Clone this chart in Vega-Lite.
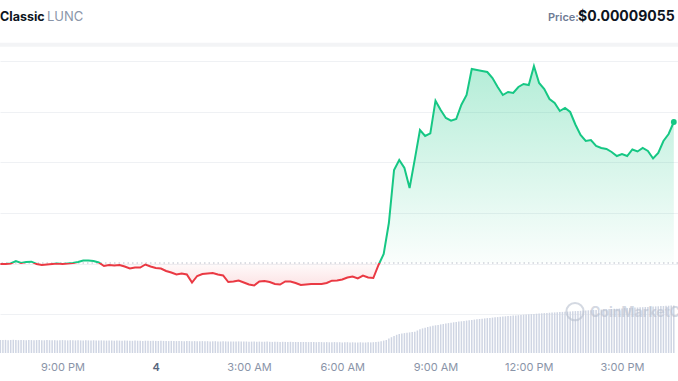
{
"$schema":"https://vega.github.io/schema/vega-lite/v6.json",
"width":678,"height":353,
"autosize":{"type":"none"},
"padding":{"left":0,"right":0,"top":0,"bottom":28},
"background":"white",
"config":{"view":{"stroke":null},"scale":{"continuousPadding":0},
"axisX":{"grid":false,"ticks":false,"domain":false,"labelFont":"Inter","labelFontSize":11,"labelColor":"#8a94a8","labelPadding":8,"labelOverlap":false,"labelFlush":false},
"axisY":{"labels":false,"ticks":false,"domain":false,"grid":true,"gridColor":"#eff1f4","gridWidth":1}},
"datasets":{
"price":[
{"t":"2024-09-03T19:00","p":0.00008629},{"t":"2024-09-03T19:10","p":0.00008629},{"t":"2024-09-03T19:20","p":0.000086305},{"t":"2024-09-03T19:30","p":0.00008638},{"t":"2024-09-03T19:40","p":0.00008632},{"t":"2024-09-03T19:50","p":0.00008635},
{"t":"2024-09-03T20:00","p":0.00008636},{"t":"2024-09-03T20:10","p":0.00008629},{"t":"2024-09-03T20:20","p":0.00008626},{"t":"2024-09-03T20:30","p":0.000086275},{"t":"2024-09-03T20:40","p":0.00008629},{"t":"2024-09-03T20:50","p":0.000086305},
{"t":"2024-09-03T21:00","p":0.00008629},{"t":"2024-09-03T21:10","p":0.000086305},{"t":"2024-09-03T21:20","p":0.00008632},{"t":"2024-09-03T21:30","p":0.00008635},{"t":"2024-09-03T21:40","p":0.000086395},{"t":"2024-09-03T21:50","p":0.000086395},
{"t":"2024-09-03T22:00","p":0.00008638},{"t":"2024-09-03T22:10","p":0.000086335},{"t":"2024-09-03T22:20","p":0.00008623},{"t":"2024-09-03T22:30","p":0.00008626},{"t":"2024-09-03T22:40","p":0.000086245},{"t":"2024-09-03T22:50","p":0.00008626},
{"t":"2024-09-03T23:00","p":0.000086215},{"t":"2024-09-03T23:10","p":0.000086155},{"t":"2024-09-03T23:20","p":0.000086185},{"t":"2024-09-03T23:30","p":0.000086185},{"t":"2024-09-03T23:40","p":0.000086275},{"t":"2024-09-03T23:50","p":0.000086215},
{"t":"2024-09-04T00:00","p":0.00008617},{"t":"2024-09-04T00:10","p":0.000086155},{"t":"2024-09-04T00:20","p":0.00008608},{"t":"2024-09-04T00:30","p":0.000086035},{"t":"2024-09-04T00:40","p":0.000085975},{"t":"2024-09-04T00:50","p":0.000086005},
{"t":"2024-09-04T01:00","p":0.000085975},{"t":"2024-09-04T01:10","p":0.000085735},{"t":"2024-09-04T01:20","p":0.00008593},{"t":"2024-09-04T01:30","p":0.00008599},{"t":"2024-09-04T01:40","p":0.000086005},{"t":"2024-09-04T01:50","p":0.00008602},
{"t":"2024-09-04T02:00","p":0.000085975},{"t":"2024-09-04T02:10","p":0.000085945},{"t":"2024-09-04T02:20","p":0.00008575},{"t":"2024-09-04T02:30","p":0.000085765},{"t":"2024-09-04T02:40","p":0.000085795},{"t":"2024-09-04T02:50","p":0.000085735},
{"t":"2024-09-04T03:00","p":0.000085675},{"t":"2024-09-04T03:10","p":0.000085645},{"t":"2024-09-04T03:20","p":0.000085765},{"t":"2024-09-04T03:30","p":0.00008578},{"t":"2024-09-04T03:40","p":0.00008575},{"t":"2024-09-04T03:50","p":0.00008569},
{"t":"2024-09-04T04:00","p":0.000085675},{"t":"2024-09-04T04:10","p":0.000085765},{"t":"2024-09-04T04:20","p":0.000085765},{"t":"2024-09-04T04:30","p":0.00008572},{"t":"2024-09-04T04:40","p":0.00008566},{"t":"2024-09-04T04:50","p":0.000085675},
{"t":"2024-09-04T05:00","p":0.00008569},{"t":"2024-09-04T05:10","p":0.00008569},{"t":"2024-09-04T05:20","p":0.00008569},{"t":"2024-09-04T05:30","p":0.00008572},{"t":"2024-09-04T05:40","p":0.00008579},{"t":"2024-09-04T05:50","p":0.000085795},
{"t":"2024-09-04T06:00","p":0.000085825},{"t":"2024-09-04T06:10","p":0.000085885},{"t":"2024-09-04T06:20","p":0.000085915},{"t":"2024-09-04T06:30","p":0.00008586},{"t":"2024-09-04T06:40","p":0.000085945},{"t":"2024-09-04T06:50","p":0.000085885},
{"t":"2024-09-04T07:00","p":0.00008587},{"t":"2024-09-04T07:10","p":0.00008626},{"t":"2024-09-04T07:20","p":0.00008659},{"t":"2024-09-04T07:30","p":0.00008752},{"t":"2024-09-04T07:40","p":0.00008911},{"t":"2024-09-04T07:50","p":0.00008941},
{"t":"2024-09-04T08:00","p":0.00008917},{"t":"2024-09-04T08:10","p":0.00008857},{"t":"2024-09-04T08:20","p":0.00008943},{"t":"2024-09-04T08:30","p":0.00009031},{"t":"2024-09-04T08:40","p":0.00009013},{"t":"2024-09-04T08:50","p":0.00009021},
{"t":"2024-09-04T09:00","p":0.00009119},{"t":"2024-09-04T09:10","p":0.00009091},{"t":"2024-09-04T09:20","p":0.00009067},{"t":"2024-09-04T09:30","p":0.00009059},{"t":"2024-09-04T09:40","p":0.00009064},{"t":"2024-09-04T09:50","p":0.00009107},
{"t":"2024-09-04T10:00","p":0.00009136},{"t":"2024-09-04T10:10","p":0.00009214},{"t":"2024-09-04T10:20","p":0.00009211},{"t":"2024-09-04T10:30","p":0.00009208},{"t":"2024-09-04T10:40","p":0.00009205},{"t":"2024-09-04T10:50","p":0.00009187},
{"t":"2024-09-04T11:00","p":0.0000916},{"t":"2024-09-04T11:10","p":0.00009136},{"t":"2024-09-04T11:20","p":0.00009145},{"t":"2024-09-04T11:30","p":0.00009142},{"t":"2024-09-04T11:40","p":0.0000916},{"t":"2024-09-04T11:50","p":0.00009169},
{"t":"2024-09-04T12:00","p":0.00009166},{"t":"2024-09-04T12:10","p":0.00009223},{"t":"2024-09-04T12:20","p":0.00009172},{"t":"2024-09-04T12:30","p":0.00009154},{"t":"2024-09-04T12:40","p":0.00009124},{"t":"2024-09-04T12:50","p":0.00009112},
{"t":"2024-09-04T13:00","p":0.00009088},{"t":"2024-09-04T13:10","p":0.00009097},{"t":"2024-09-04T13:20","p":0.00009085},{"t":"2024-09-04T13:30","p":0.000090475},{"t":"2024-09-04T13:40","p":0.00009016},{"t":"2024-09-04T13:50","p":0.00008998},
{"t":"2024-09-04T14:00","p":0.00009001},{"t":"2024-09-04T14:10","p":0.00008983},{"t":"2024-09-04T14:20","p":0.00008977},{"t":"2024-09-04T14:30","p":0.00008974},{"t":"2024-09-04T14:40","p":0.00008965},{"t":"2024-09-04T14:50","p":0.00008953},
{"t":"2024-09-04T15:00","p":0.00008959},{"t":"2024-09-04T15:10","p":0.00008953},{"t":"2024-09-04T15:20","p":0.000089725},{"t":"2024-09-04T15:30","p":0.000089665},{"t":"2024-09-04T15:40","p":0.00008977},{"t":"2024-09-04T15:50","p":0.00008968},
{"t":"2024-09-04T16:00","p":0.000089455},{"t":"2024-09-04T16:10","p":0.00008962},{"t":"2024-09-04T16:20","p":0.00008998},{"t":"2024-09-04T16:30","p":0.00009019},{"t":"2024-09-04T16:40","p":0.00009055}
],
"vol":[
{"t":"2024-09-03T19:00","v":13.0},{"t":"2024-09-03T19:05","v":12.9},{"t":"2024-09-03T19:10","v":13.1},{"t":"2024-09-03T19:15","v":12.8},{"t":"2024-09-03T19:20","v":13.0},{"t":"2024-09-03T19:25","v":13.2},{"t":"2024-09-03T19:30","v":12.9},{"t":"2024-09-03T19:35","v":12.8},{"t":"2024-09-03T19:40","v":13.0},{"t":"2024-09-03T19:45","v":12.9},{"t":"2024-09-03T19:50","v":12.8},{"t":"2024-09-03T19:55","v":13.0},
{"t":"2024-09-03T20:00","v":12.9},{"t":"2024-09-03T20:05","v":12.7},{"t":"2024-09-03T20:10","v":12.9},{"t":"2024-09-03T20:15","v":13.0},{"t":"2024-09-03T20:20","v":12.8},{"t":"2024-09-03T20:25","v":12.7},{"t":"2024-09-03T20:30","v":12.9},{"t":"2024-09-03T20:35","v":12.8},{"t":"2024-09-03T20:40","v":12.7},{"t":"2024-09-03T20:45","v":12.8},{"t":"2024-09-03T20:50","v":12.6},{"t":"2024-09-03T20:55","v":12.8},
{"t":"2024-09-03T21:00","v":12.9},{"t":"2024-09-03T21:05","v":12.7},{"t":"2024-09-03T21:10","v":12.6},{"t":"2024-09-03T21:15","v":12.8},{"t":"2024-09-03T21:20","v":12.7},{"t":"2024-09-03T21:25","v":12.6},{"t":"2024-09-03T21:30","v":12.8},{"t":"2024-09-03T21:35","v":12.6},{"t":"2024-09-03T21:40","v":12.5},{"t":"2024-09-03T21:45","v":12.7},{"t":"2024-09-03T21:50","v":12.6},{"t":"2024-09-03T21:55","v":12.5},
{"t":"2024-09-03T22:00","v":12.7},{"t":"2024-09-03T22:05","v":12.6},{"t":"2024-09-03T22:10","v":12.4},{"t":"2024-09-03T22:15","v":12.6},{"t":"2024-09-03T22:20","v":12.5},{"t":"2024-09-03T22:25","v":12.4},{"t":"2024-09-03T22:30","v":12.6},{"t":"2024-09-03T22:35","v":12.5},{"t":"2024-09-03T22:40","v":12.3},{"t":"2024-09-03T22:45","v":12.5},{"t":"2024-09-03T22:50","v":12.4},{"t":"2024-09-03T22:55","v":12.3},
{"t":"2024-09-03T23:00","v":12.5},{"t":"2024-09-03T23:05","v":12.4},{"t":"2024-09-03T23:10","v":12.3},{"t":"2024-09-03T23:15","v":12.2},{"t":"2024-09-03T23:20","v":12.4},{"t":"2024-09-03T23:25","v":12.3},{"t":"2024-09-03T23:30","v":12.2},{"t":"2024-09-03T23:35","v":12.1},{"t":"2024-09-03T23:40","v":12.3},{"t":"2024-09-03T23:45","v":12.2},{"t":"2024-09-03T23:50","v":12.1},{"t":"2024-09-03T23:55","v":12.2},
{"t":"2024-09-04T00:00","v":12.1},{"t":"2024-09-04T00:05","v":12.0},{"t":"2024-09-04T00:10","v":12.2},{"t":"2024-09-04T00:15","v":12.1},{"t":"2024-09-04T00:20","v":12.0},{"t":"2024-09-04T00:25","v":11.9},{"t":"2024-09-04T00:30","v":12.1},{"t":"2024-09-04T00:35","v":12.0},{"t":"2024-09-04T00:40","v":11.9},{"t":"2024-09-04T00:45","v":12.0},{"t":"2024-09-04T00:50","v":11.9},{"t":"2024-09-04T00:55","v":11.8},
{"t":"2024-09-04T01:00","v":12.0},{"t":"2024-09-04T01:05","v":11.9},{"t":"2024-09-04T01:10","v":11.8},{"t":"2024-09-04T01:15","v":11.9},{"t":"2024-09-04T01:20","v":11.7},{"t":"2024-09-04T01:25","v":11.8},{"t":"2024-09-04T01:30","v":11.9},{"t":"2024-09-04T01:35","v":11.7},{"t":"2024-09-04T01:40","v":11.8},{"t":"2024-09-04T01:45","v":11.6},{"t":"2024-09-04T01:50","v":11.7},{"t":"2024-09-04T01:55","v":11.8},
{"t":"2024-09-04T02:00","v":11.6},{"t":"2024-09-04T02:05","v":11.5},{"t":"2024-09-04T02:10","v":11.7},{"t":"2024-09-04T02:15","v":11.6},{"t":"2024-09-04T02:20","v":11.5},{"t":"2024-09-04T02:25","v":11.6},{"t":"2024-09-04T02:30","v":11.5},{"t":"2024-09-04T02:35","v":11.4},{"t":"2024-09-04T02:40","v":11.6},{"t":"2024-09-04T02:45","v":11.5},{"t":"2024-09-04T02:50","v":11.4},{"t":"2024-09-04T02:55","v":11.5},
{"t":"2024-09-04T03:00","v":11.3},{"t":"2024-09-04T03:05","v":11.4},{"t":"2024-09-04T03:10","v":11.5},{"t":"2024-09-04T03:15","v":11.3},{"t":"2024-09-04T03:20","v":11.4},{"t":"2024-09-04T03:25","v":11.2},{"t":"2024-09-04T03:30","v":11.3},{"t":"2024-09-04T03:35","v":11.4},{"t":"2024-09-04T03:40","v":11.2},{"t":"2024-09-04T03:45","v":11.1},{"t":"2024-09-04T03:50","v":11.3},{"t":"2024-09-04T03:55","v":11.2},
{"t":"2024-09-04T04:00","v":11.1},{"t":"2024-09-04T04:05","v":11.2},{"t":"2024-09-04T04:10","v":11.1},{"t":"2024-09-04T04:15","v":11.0},{"t":"2024-09-04T04:20","v":11.2},{"t":"2024-09-04T04:25","v":11.1},{"t":"2024-09-04T04:30","v":11.0},{"t":"2024-09-04T04:35","v":11.1},{"t":"2024-09-04T04:40","v":10.9},{"t":"2024-09-04T04:45","v":11.0},{"t":"2024-09-04T04:50","v":11.1},{"t":"2024-09-04T04:55","v":10.9},
{"t":"2024-09-04T05:00","v":11.0},{"t":"2024-09-04T05:05","v":10.9},{"t":"2024-09-04T05:10","v":10.8},{"t":"2024-09-04T05:15","v":11.0},{"t":"2024-09-04T05:20","v":10.9},{"t":"2024-09-04T05:25","v":10.8},{"t":"2024-09-04T05:30","v":10.9},{"t":"2024-09-04T05:35","v":10.7},{"t":"2024-09-04T05:40","v":10.8},{"t":"2024-09-04T05:45","v":10.9},{"t":"2024-09-04T05:50","v":10.7},{"t":"2024-09-04T05:55","v":10.8},
{"t":"2024-09-04T06:00","v":10.6},{"t":"2024-09-04T06:05","v":10.7},{"t":"2024-09-04T06:10","v":10.8},{"t":"2024-09-04T06:15","v":10.6},{"t":"2024-09-04T06:20","v":10.7},{"t":"2024-09-04T06:25","v":10.5},{"t":"2024-09-04T06:30","v":10.6},{"t":"2024-09-04T06:35","v":10.7},{"t":"2024-09-04T06:40","v":10.6},{"t":"2024-09-04T06:45","v":10.5},{"t":"2024-09-04T06:50","v":10.7},{"t":"2024-09-04T06:55","v":10.6},
{"t":"2024-09-04T07:00","v":10.8},{"t":"2024-09-04T07:05","v":11.0},{"t":"2024-09-04T07:10","v":11.3},{"t":"2024-09-04T07:15","v":11.8},{"t":"2024-09-04T07:20","v":12.4},{"t":"2024-09-04T07:25","v":13.0},{"t":"2024-09-04T07:30","v":14.5},{"t":"2024-09-04T07:35","v":15.8},{"t":"2024-09-04T07:40","v":17.0},{"t":"2024-09-04T07:45","v":18.2},{"t":"2024-09-04T07:50","v":19.0},{"t":"2024-09-04T07:55","v":19.6},
{"t":"2024-09-04T08:00","v":19.9},{"t":"2024-09-04T08:05","v":20.3},{"t":"2024-09-04T08:10","v":20.6},{"t":"2024-09-04T08:15","v":20.9},{"t":"2024-09-04T08:20","v":21.3},{"t":"2024-09-04T08:25","v":22.5},{"t":"2024-09-04T08:30","v":23.8},{"t":"2024-09-04T08:35","v":24.6},{"t":"2024-09-04T08:40","v":25.3},{"t":"2024-09-04T08:45","v":26.0},{"t":"2024-09-04T08:50","v":26.6},{"t":"2024-09-04T08:55","v":27.2},
{"t":"2024-09-04T09:00","v":27.7},{"t":"2024-09-04T09:05","v":28.1},{"t":"2024-09-04T09:10","v":28.6},{"t":"2024-09-04T09:15","v":29.0},{"t":"2024-09-04T09:20","v":29.5},{"t":"2024-09-04T09:25","v":29.9},{"t":"2024-09-04T09:30","v":30.3},{"t":"2024-09-04T09:35","v":30.7},{"t":"2024-09-04T09:40","v":31.0},{"t":"2024-09-04T09:45","v":31.4},{"t":"2024-09-04T09:50","v":31.7},{"t":"2024-09-04T09:55","v":32.1},
{"t":"2024-09-04T10:00","v":32.4},{"t":"2024-09-04T10:05","v":32.8},{"t":"2024-09-04T10:10","v":33.1},{"t":"2024-09-04T10:15","v":33.4},{"t":"2024-09-04T10:20","v":33.7},{"t":"2024-09-04T10:25","v":34.0},{"t":"2024-09-04T10:30","v":34.3},{"t":"2024-09-04T10:35","v":34.6},{"t":"2024-09-04T10:40","v":34.9},{"t":"2024-09-04T10:45","v":35.1},{"t":"2024-09-04T10:50","v":35.4},{"t":"2024-09-04T10:55","v":35.7},
{"t":"2024-09-04T11:00","v":35.9},{"t":"2024-09-04T11:05","v":36.2},{"t":"2024-09-04T11:10","v":36.4},{"t":"2024-09-04T11:15","v":36.7},{"t":"2024-09-04T11:20","v":36.9},{"t":"2024-09-04T11:25","v":37.1},{"t":"2024-09-04T11:30","v":37.4},{"t":"2024-09-04T11:35","v":37.6},{"t":"2024-09-04T11:40","v":37.8},{"t":"2024-09-04T11:45","v":38.0},{"t":"2024-09-04T11:50","v":38.3},{"t":"2024-09-04T11:55","v":38.5},
{"t":"2024-09-04T12:00","v":38.7},{"t":"2024-09-04T12:05","v":38.9},{"t":"2024-09-04T12:10","v":39.1},{"t":"2024-09-04T12:15","v":39.3},{"t":"2024-09-04T12:20","v":39.5},{"t":"2024-09-04T12:25","v":39.7},{"t":"2024-09-04T12:30","v":39.9},{"t":"2024-09-04T12:35","v":40.1},{"t":"2024-09-04T12:40","v":40.3},{"t":"2024-09-04T12:45","v":40.4},{"t":"2024-09-04T12:50","v":40.6},{"t":"2024-09-04T12:55","v":40.8},
{"t":"2024-09-04T13:00","v":41.0},{"t":"2024-09-04T13:05","v":41.1},{"t":"2024-09-04T13:10","v":41.3},{"t":"2024-09-04T13:15","v":41.5},{"t":"2024-09-04T13:20","v":41.6},{"t":"2024-09-04T13:25","v":41.8},{"t":"2024-09-04T13:30","v":41.9},{"t":"2024-09-04T13:35","v":42.1},{"t":"2024-09-04T13:40","v":42.2},{"t":"2024-09-04T13:45","v":42.4},{"t":"2024-09-04T13:50","v":42.5},{"t":"2024-09-04T13:55","v":42.7},
{"t":"2024-09-04T14:00","v":42.8},{"t":"2024-09-04T14:05","v":43.0},{"t":"2024-09-04T14:10","v":43.1},{"t":"2024-09-04T14:15","v":43.3},{"t":"2024-09-04T14:20","v":43.4},{"t":"2024-09-04T14:25","v":43.6},{"t":"2024-09-04T14:30","v":43.7},{"t":"2024-09-04T14:35","v":43.9},{"t":"2024-09-04T14:40","v":44.0},{"t":"2024-09-04T14:45","v":44.2},{"t":"2024-09-04T14:50","v":44.3},{"t":"2024-09-04T14:55","v":44.5},
{"t":"2024-09-04T15:00","v":44.6},{"t":"2024-09-04T15:05","v":44.8},{"t":"2024-09-04T15:10","v":44.9},{"t":"2024-09-04T15:15","v":45.1},{"t":"2024-09-04T15:20","v":45.2},{"t":"2024-09-04T15:25","v":45.4},{"t":"2024-09-04T15:30","v":45.5},{"t":"2024-09-04T15:35","v":45.7},{"t":"2024-09-04T15:40","v":45.8},{"t":"2024-09-04T15:45","v":46.0},{"t":"2024-09-04T15:50","v":46.1},{"t":"2024-09-04T15:55","v":46.3},
{"t":"2024-09-04T16:00","v":46.4},{"t":"2024-09-04T16:05","v":46.6},{"t":"2024-09-04T16:10","v":46.7},{"t":"2024-09-04T16:15","v":46.9},{"t":"2024-09-04T16:20","v":47.0},{"t":"2024-09-04T16:25","v":47.2},{"t":"2024-09-04T16:30","v":47.3},{"t":"2024-09-04T16:35","v":47.5},{"t":"2024-09-04T16:40","v":47.6}
]},
"layer":[
{"layer":[
{"data":{"values":[{}]},"mark":{"type":"rule","stroke":"#f3f4f6","strokeWidth":4},
 "encoding":{"y":{"datum":0.00009287,"type":"quantitative","title":null,"scale":{"domain":[0.00008362,0.00009421],"nice":false,"zero":false}}}},
{"data":{"name":"price"},"mark":{"type":"area","opacity":1,"line":false,"fill":{"gradient":"linear","x1":0,"y1":0,"x2":0,"y2":1,"stops":[{"offset":0,"color":"rgba(22,199,132,0.32)"},{"offset":0.8975,"color":"rgba(22,199,132,0.02)"},{"offset":0.8975,"color":"rgba(234,57,67,0.02)"},{"offset":1,"color":"rgba(234,57,67,0.14)"}]}},
 "encoding":{"x":{"field":"t","type":"temporal","title":null,"scale":{"domain":[{"year":2024,"month":9,"date":3,"hours":18,"minutes":59,"seconds":21,"milliseconds":500},{"year":2024,"month":9,"date":4,"hours":16,"minutes":48,"seconds":6}],"nice":false,"padding":0}},
  "y":{"field":"p","type":"quantitative","title":null,"scale":{"domain":[0.00008362,0.00009421],"nice":false,"zero":false}},
  "y2":{"datum":0.00008632}}},
{"data":{"values":[{}]},"mark":{"type":"rule","stroke":"#b9bec9","strokeWidth":1,"strokeDash":[1.5,3]},
 "encoding":{"y":{"datum":0.00008632,"type":"quantitative","title":null,"scale":{"domain":[0.00008362,0.00009421],"nice":false,"zero":false}}}},
{"data":{"name":"price"},"mark":{"type":"line","strokeWidth":2,"stroke":{"gradient":"linear","x1":0,"y1":0,"x2":0,"y2":1,"stops":[{"offset":0,"color":"#16c784"},{"offset":0.8975,"color":"#16c784"},{"offset":0.8975,"color":"#ea3943"},{"offset":1,"color":"#ea3943"}]}},
 "encoding":{"x":{"field":"t","type":"temporal","title":null,"scale":{"domain":[{"year":2024,"month":9,"date":3,"hours":18,"minutes":59,"seconds":21,"milliseconds":500},{"year":2024,"month":9,"date":4,"hours":16,"minutes":48,"seconds":6}],"nice":false,"padding":0},
   "axis":{"values":[{"year":2024,"month":9,"date":3,"hours":21},{"year":2024,"month":9,"date":4,"hours":0},{"year":2024,"month":9,"date":4,"hours":3},{"year":2024,"month":9,"date":4,"hours":6},{"year":2024,"month":9,"date":4,"hours":9},{"year":2024,"month":9,"date":4,"hours":12},{"year":2024,"month":9,"date":4,"hours":15}],
    "labelExpr":"hours(datum.value) == 0 ? timeFormat(datum.value, '%-d') : timeFormat(datum.value, '%-I:%M %p')",
    "labelColor":{"condition":{"test":"hours(datum.value) == 0","value":"#58667e"},"value":"#8a94a8"},
    "labelFontWeight":{"condition":{"test":"hours(datum.value) == 0","value":600},"value":400}}},
  "y":{"field":"p","type":"quantitative","title":null,"scale":{"domain":[0.00008362,0.00009421],"nice":false,"zero":false},
   "axis":{"values":[0.00009238,0.00009163,0.00009085,0.0000901,0.00008935,0.00008857,0.00008782,0.00008704,0.00008629,0.00008554,0.00008479]}}}},
{"data":{"name":"price"},"transform":[{"filter":"datum.p == 0.00009055"}],"mark":{"type":"point","filled":true,"color":"#16c784","size":34,"opacity":1},
 "encoding":{"x":{"field":"t","type":"temporal","title":null,"scale":{"domain":[{"year":2024,"month":9,"date":3,"hours":18,"minutes":59,"seconds":21,"milliseconds":500},{"year":2024,"month":9,"date":4,"hours":16,"minutes":48,"seconds":6}],"nice":false,"padding":0}},
  "y":{"field":"p","type":"quantitative","title":null,"scale":{"domain":[0.00008362,0.00009421],"nice":false,"zero":false}}}},
{"data":{"values":[{}]},"mark":{"type":"text","text":"Classic","font":"Inter","fontSize":12.5,"fontWeight":"bold","color":"#0d1421","align":"left","baseline":"alphabetic"},
 "encoding":{"x":{"datum":{"year":2024,"month":9,"date":3,"hours":18,"minutes":59,"seconds":22},"type":"temporal","title":null},
  "y":{"datum":0.00009359,"type":"quantitative","title":null}}},
{"data":{"values":[{}]},"mark":{"type":"text","text":"LUNC","font":"Inter","fontSize":13,"fontWeight":"normal","color":"#8b96a9","align":"left","baseline":"alphabetic"},
 "encoding":{"x":{"datum":{"year":2024,"month":9,"date":3,"hours":20,"minutes":30,"seconds":5},"type":"temporal","title":null},
  "y":{"datum":0.00009359,"type":"quantitative","title":null}}},
{"data":{"values":[{}]},"mark":{"type":"text","text":"Price:","font":"Inter","fontSize":11,"fontWeight":600,"color":"#6f7c95","align":"left","baseline":"alphabetic"},
 "encoding":{"x":{"datum":{"year":2024,"month":9,"date":4,"hours":12,"minutes":37,"seconds":11},"type":"temporal","title":null},
  "y":{"datum":0.00009359,"type":"quantitative","title":null}}},
{"data":{"values":[{}]},"mark":{"type":"text","text":"$0.00009055","font":"Inter","fontSize":14,"fontWeight":"bold","color":"#0d1421","align":"left","baseline":"alphabetic"},
 "encoding":{"x":{"datum":{"year":2024,"month":9,"date":4,"hours":13,"minutes":35,"seconds":5},"type":"temporal","title":null},
  "y":{"datum":0.00009359,"type":"quantitative","title":null}}}
]},
{"layer":[
{"data":{"name":"vol"},"mark":{"type":"bar","size":1.5,"color":"#cfd5e3"},
 "encoding":{"x":{"field":"t","type":"temporal","title":null,"scale":{"domain":[{"year":2024,"month":9,"date":3,"hours":18,"minutes":59,"seconds":21,"milliseconds":500},{"year":2024,"month":9,"date":4,"hours":16,"minutes":48,"seconds":6}],"nice":false,"padding":0}},
  "y":{"field":"v","type":"quantitative","title":null,"axis":null,"scale":{"domain":[0,353],"nice":false}}}},
{"data":{"values":[{}]},"mark":{"type":"point","shape":"circle","filled":false,"stroke":"#b8c0cf","strokeWidth":2,"size":300,"opacity":0.6},
 "encoding":{"x":{"datum":{"year":2024,"month":9,"date":4,"hours":13,"minutes":29,"seconds":18},"type":"temporal","title":null},
  "y":{"datum":41.3,"type":"quantitative","title":null,"axis":null}}},
{"data":{"values":[{}]},"mark":{"type":"text","text":"CoinMarketCap","font":"Inter","fontSize":14,"fontWeight":"bold","color":"#b8c0cf","opacity":0.6,"align":"left","baseline":"alphabetic"},
 "encoding":{"x":{"datum":{"year":2024,"month":9,"date":4,"hours":13,"minutes":58,"seconds":15},"type":"temporal","title":null},
  "y":{"datum":36,"type":"quantitative","title":null,"axis":null}}}
]}
],
"resolve":{"scale":{"y":"independent"}}
}
